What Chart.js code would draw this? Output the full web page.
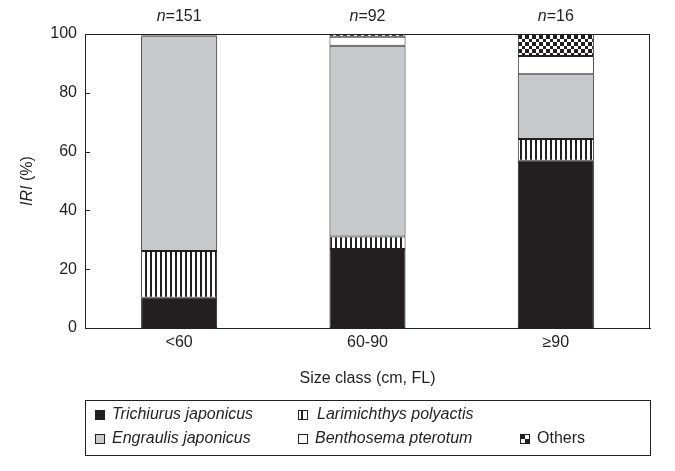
<!DOCTYPE html>
<html>
<head>
<meta charset="utf-8">
<script src="https://cdn.jsdelivr.net/npm/chart.js@4/dist/chart.umd.min.js"></script>
<style>
html,body{margin:0;padding:0;background:#fff;}
#wrap{width:675px;height:471px;position:relative;}
</style>
</head>
<body>
<div id="wrap"><canvas id="c" width="675" height="471"></canvas></div>
<script>
const categories = ['<60', '60-90', '\u226590'];
const sampleSizes = [151, 92, 16];
const trichiurus = [10.3, 26.9, 56.9];
const larimichthys = [15.9, 4.2, 7.4];
const engraulis = [73.0, 64.9, 22.0];
const benthosema = [0.3, 3.1, 6.2];
const others = [0.5, 0.9, 7.5];
const yTicks = [0, 20, 40, 60, 80, 100];
const seriesNames = ['Trichiurus japonicus', 'Larimichthys polyactis', 'Engraulis japonicus', 'Benthosema pterotum', 'Others'];

const INK = '#231f20';
const GRAY = '#c8c9ca';
const FONT = "'Liberation Sans', Arial, sans-serif";

function makeStripe() {
  const c = document.createElement('canvas');
  c.width = 5; c.height = 5;
  const g = c.getContext('2d');
  g.fillStyle = '#fff'; g.fillRect(0, 0, 5, 5);
  g.fillStyle = INK; g.fillRect(0, 0, 2, 5);
  return g.createPattern(c, 'repeat');
}
function makeChecker() {
  const c = document.createElement('canvas');
  c.width = 7; c.height = 7;
  const g = c.getContext('2d');
  g.fillStyle = '#fff'; g.fillRect(0, 0, 7, 7);
  g.fillStyle = INK; g.fillRect(0, 0, 4, 4); g.fillRect(4, 4, 3, 3);
  return g.createPattern(c, 'repeat');
}
const stripe = makeStripe();
const checker = makeChecker();
const fills = [INK, stripe, GRAY, '#ffffff', checker];
const seriesData = [trichiurus, larimichthys, engraulis, benthosema, others];

const decor = {
  id: 'decor',
  afterDraw(chart) {
    const ctx = chart.ctx;
    const a = chart.chartArea;
    const y = chart.scales.y, x = chart.scales.x;
    ctx.save();
    ctx.strokeStyle = INK; ctx.lineWidth = 1;
    ctx.strokeRect(Math.round(a.left) + 0.5, Math.round(a.top) + 0.5, Math.round(a.right - a.left) - 1, Math.round(a.bottom - a.top));
    yTicks.forEach(v => {
      const py = Math.round(y.getPixelForValue(v)) + 0.5;
      ctx.beginPath(); ctx.moveTo(a.left, py); ctx.lineTo(a.left + 5, py); ctx.stroke();
    });
    ctx.fillStyle = INK;
    ctx.textBaseline = 'middle';
    sampleSizes.forEach((n, i) => {
      const cx = x.getPixelForValue(i);
      ctx.font = 'italic 16px ' + FONT;
      const w1 = ctx.measureText('n').width;
      ctx.font = '16px ' + FONT;
      const rest = '=' + n;
      const w2 = ctx.measureText(rest).width;
      const sx = cx - (w1 + w2) / 2;
      ctx.font = 'italic 16px ' + FONT;
      ctx.textAlign = 'left';
      ctx.fillText('n', sx, 17);
      ctx.font = '16px ' + FONT;
      ctx.fillText(rest, sx + w1, 17);
    });
    ctx.save();
    ctx.translate(28, (a.top + a.bottom) / 2);
    ctx.rotate(-Math.PI / 2);
    ctx.font = 'italic 16px ' + FONT;
    const t1 = 'IRI', t2 = ' (%)';
    const wa = ctx.measureText(t1).width;
    ctx.font = '16px ' + FONT;
    const wb = ctx.measureText(t2).width;
    let sx = -(wa + wb) / 2;
    ctx.textAlign = 'left';
    ctx.font = 'italic 16px ' + FONT;
    ctx.fillText(t1, sx, 0);
    ctx.font = '16px ' + FONT;
    ctx.fillText(t2, sx + wa, 0);
    ctx.restore();
    ctx.strokeRect(85.5, 400.5, 565, 55);
    const items = [
      {i: 0, sx: 95, tx: 112, y: 415, italic: true},
      {i: 1, sx: 298, tx: 317, y: 415, italic: true},
      {i: 2, sx: 95, tx: 112, y: 439, italic: true},
      {i: 3, sx: 298, tx: 315, y: 439, italic: true},
      {i: 4, sx: 520, tx: 537, y: 439, italic: false}
    ];
    items.forEach(it => {
      const top = it.y - 5;
      if (it.i === 4) {
        ctx.fillStyle = '#fff'; ctx.fillRect(it.sx, top, 10, 10);
        ctx.fillStyle = INK; ctx.fillRect(it.sx, top, 5, 5); ctx.fillRect(it.sx + 5, top + 5, 5, 5);
      } else if (it.i === 1) {
        ctx.fillStyle = '#fff'; ctx.fillRect(it.sx, top, 10, 10);
        ctx.fillStyle = INK; ctx.fillRect(it.sx + 3, top, 2, 10);
      } else {
        ctx.fillStyle = fills[it.i];
        ctx.fillRect(it.sx, top, 10, 10);
      }
      ctx.strokeStyle = INK;
      ctx.strokeRect(it.sx + 0.5, top + 0.5, 9, 9);
      ctx.fillStyle = INK;
      ctx.font = (it.italic ? 'italic ' : '') + '16px ' + FONT;
      ctx.textAlign = 'left';
      ctx.textBaseline = 'middle';
      ctx.fillText(seriesNames[it.i], it.tx, it.y);
    });
    ctx.restore();
  }
};

new Chart(document.getElementById('c'), {
  type: 'bar',
  data: {
    labels: categories,
    datasets: seriesData.map((d, i) => ({
      label: seriesNames[i],
      data: d,
      backgroundColor: fills[i],
      borderColor: INK,
      borderWidth: 1,
      borderSkipped: false,
      categoryPercentage: 1,
      barPercentage: 0.404
    }))
  },
  options: {
    responsive: false,
    animation: false,
    devicePixelRatio: 1,
    layout: {padding: {top: 34, right: 25, left: 0, bottom: 83}},
    plugins: {legend: {display: false}, tooltip: {enabled: false}},
    scales: {
      x: {
        stacked: true,
        grid: {display: false, drawTicks: false},
        border: {color: INK, width: 1},
        ticks: {font: {family: FONT, size: 16}, color: INK, padding: 5},
        title: {display: true, text: 'Size class (cm, FL)', font: {family: FONT, size: 16}, color: INK, padding: 0},
        afterFit(s) { s.height = 60; }
      },
      y: {
        stacked: true,
        min: 0, max: 100,
        afterBuildTicks(s) { s.ticks = yTicks.map(v => ({value: v})); },
        grid: {display: false, drawTicks: false},
        border: {color: INK, width: 1},
        ticks: {font: {family: FONT, size: 16}, color: INK, padding: 8},
        afterFit(s) { s.width = 85; }
      }
    }
  },
  plugins: [decor]
});
</script>
</body>
</html>
